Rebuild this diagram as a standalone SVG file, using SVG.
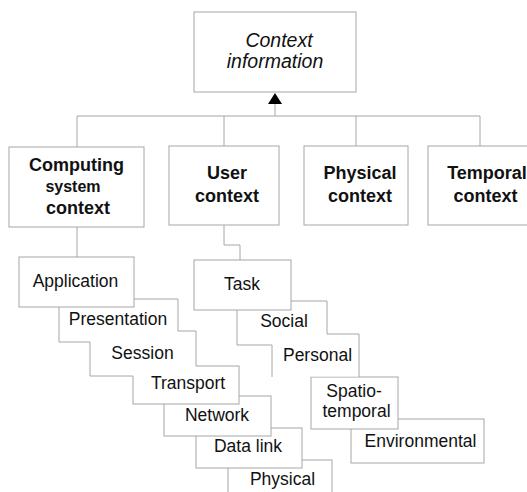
<svg xmlns="http://www.w3.org/2000/svg" width="527" height="492" viewBox="0 0 527 492">
<style>
.bx{fill:#fff;stroke:#a6a6a6;stroke-width:1}
.fl{fill:#fff;stroke:none}
.ln{fill:none;stroke:#a6a6a6;stroke-width:1}
text{font-family:"Liberation Sans",Arial,sans-serif;fill:#111;text-anchor:middle}
.b{font-weight:bold;font-size:18px}
.n{font-size:17.5px}
.i{font-style:italic;font-size:19.5px}
</style>
<rect width="527" height="492" fill="#fff"/>
<g id="connectors">
<path class="ln" d="M77,116 H480 M77,116 V147 M224,116 V146 M356,116 V146 M480,116 V146"/>
<path class="ln" d="M275,116 V104"/>
<path d="M268,104 L282,104 L275,93 Z" fill="#000"/>
<path class="ln" d="M77,227 V257"/>
<path class="ln" d="M224,225 V245 H240 V260"/>
</g>
<g id="context-information">
<rect class="bx" x="194" y="12" width="162" height="80"/>
<text class="i" x="279" y="47">Context</text>
<text class="i" x="275" y="68">information</text>
</g>
<g id="computing-system-context">
<rect class="bx" x="9" y="147" width="135" height="80"/>
<text class="b" x="76.5" y="171">Computing</text>
<text class="b" x="73" y="192" style="font-size:16px">system</text>
<text class="b" x="78" y="214">context</text>
</g>
<g id="user-context">
<rect class="bx" x="169" y="146" width="110" height="79"/>
<text class="b" x="227" y="179">User</text>
<text class="b" x="227" y="202">context</text>
</g>
<g id="physical-context">
<rect class="bx" x="304" y="146" width="104" height="79"/>
<text class="b" x="360" y="179">Physical</text>
<text class="b" x="360" y="202">context</text>
</g>
<g id="temporal-context">
<rect class="bx" x="428" y="146" width="112" height="79"/>
<text class="b" x="487" y="179">Temporal</text>
<text class="b" x="485.5" y="202">context</text>
</g>
<g id="physical">
<rect class="bx" x="228" y="460" width="104" height="45"/>
<text class="n" x="282.5" y="485">Physical</text>
</g>
<g id="data-link">
<rect class="bx" x="196" y="428" width="106" height="40"/>
<text class="n" x="248" y="452">Data link</text>
</g>
<g id="network">
<rect class="bx" x="164" y="396" width="107" height="40"/>
<text class="n" x="217" y="421">Network</text>
</g>
<g id="transport">
<rect class="bx" x="133" y="366" width="106" height="38"/>
<text class="n" x="188" y="389">Transport</text>
</g>
<g id="session">
<rect class="fl" x="90" y="331" width="106" height="45"/>
<path class="ln" d="M196,366 V331 H90 V376 H133"/>
<text class="n" x="142.5" y="359">Session</text>
</g>
<g id="presentation">
<rect class="fl" x="59" y="299" width="119" height="43"/>
<path class="ln" d="M178,331 V299 H59 V342 H90"/>
<text class="n" x="118" y="325">Presentation</text>
</g>
<g id="application">
<rect class="bx" x="19" y="257" width="115" height="50"/>
<text class="n" x="75.5" y="287">Application</text>
</g>
<g id="environmental">
<rect class="bx" x="351" y="419" width="133" height="44"/>
<text class="n" x="420.5" y="447">Environmental</text>
</g>
<g id="spatio-temporal">
<rect class="bx" x="311" y="377" width="87" height="52"/>
<text class="n" x="354" y="397">Spatio-</text>
<text class="n" x="356.5" y="417">temporal</text>
</g>
<g id="personal">
<rect class="fl" x="272" y="334" width="87" height="42.5"/>
<path class="ln" d="M272,377 V334 H359 V377"/>
<text class="n" x="317.5" y="361">Personal</text>
</g>
<g id="social">
<rect class="fl" x="237" y="301" width="90" height="44"/>
<path class="ln" d="M327,334 V301 H237 V345 H272"/>
<text class="n" x="284" y="327">Social</text>
</g>
<g id="task">
<rect class="bx" x="194" y="260" width="97" height="50"/>
<text class="n" x="242" y="290">Task</text>
</g>
</svg>
